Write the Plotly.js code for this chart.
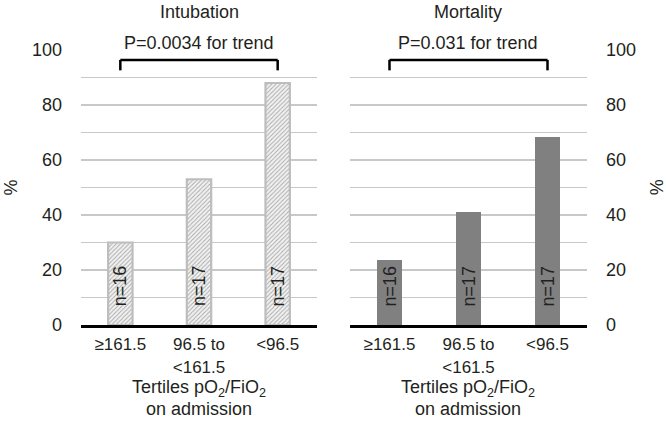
<!DOCTYPE html>
<html>
<head>
<meta charset="utf-8">
<script src="https://cdn.plot.ly/plotly-3.0.1.min.js"></script>
<style>html,body{margin:0;padding:0;background:#fff}#chart{width:666px;height:432px}</style>
</head>
<body>
<div id="chart"></div>
<script>
// ---- data ----
const categories = ["≥161.5", "96.5 to<br>&lt;161.5", "&lt;96.5"];
const intubation = [30, 53, 88];
const mortality = [23.5, 41, 68.5];
const nLabels = ["n=16", "n=17", "n=17"];
const panelTitles = ["Intubation", "Mortality"];
const pTexts = ["P=0.0034 for trend", "P=0.031 for trend"];
const yTicks = [0, 20, 40, 60, 80, 100];

const FONT = "Liberation Sans, Arial, Helvetica, sans-serif";
const TXT = "#231f20";
const GRID = "#c8c8c8";
const FS = 18;
const TFS = 17;
const idx = categories.map((c, i) => i);

const traces = [
  {
    type: "bar", x: idx, y: intubation, xaxis: "x", yaxis: "y", width: 0.31,
    marker: {
      color: "#ededed",
      line: {color: "#bdbdbd", width: 2.2},
      pattern: {shape: "/", fgcolor: "#a8a8a8", bgcolor: "#f2f2f2", size: 3, solidity: 0.3}
    },
    hoverinfo: "skip"
  },
  {
    type: "bar", x: idx, y: mortality, xaxis: "x2", yaxis: "y2", width: 0.32,
    marker: {color: "#808080", line: {width: 0}},
    hoverinfo: "skip"
  }
];

function xAx(domain, anchor) {
  return {
    domain: domain, anchor: anchor, range: [-0.5, 2.5],
    tickmode: "array", tickvals: idx, ticktext: categories,
    showline: true, linecolor: "#000", linewidth: 3,
    showgrid: false, zeroline: false, ticks: "", ticklabelstandoff: 2,
    tickfont: {family: FONT, size: TFS, color: TXT}, fixedrange: true
  };
}
function yAx(anchor, side) {
  return {
    anchor: anchor, side: side, range: [0, 100],
    tickmode: "array", tickvals: yTicks,
    showgrid: true, gridcolor: GRID, gridwidth: 1.5,
    minor: {dtick: 10, tick0: 0, showgrid: true, gridcolor: GRID, gridwidth: 1.5, ticks: ""},
    zeroline: false, showline: false, ticks: "", ticklabelstandoff: 18,
    tickfont: {family: FONT, size: FS, color: TXT}, fixedrange: true
  };
}

// paper y from a value on the 0-100 scale (plot area spans the full margins box)
const py = v => v / 100;

const annotations = [];
const shapes = [];
const axes = [["x", "y"], ["x2", "y2"]];
axes.forEach(([xa, ya], p) => {
  annotations.push({xref: xa, yref: "paper", x: 1, y: py(113.8), text: panelTitles[p], showarrow: false,
    font: {family: FONT, size: FS, color: TXT}, xanchor: "center", yanchor: "middle"});
  annotations.push({xref: xa, yref: "paper", x: 1, y: py(102.6), text: pTexts[p], showarrow: false,
    bgcolor: "#ffffff", borderpad: 1,
    font: {family: FONT, size: FS, color: TXT}, xanchor: "center", yanchor: "middle"});
  nLabels.forEach((t, i) => {
    annotations.push({xref: xa, yref: ya, x: i, y: 14.2, text: t, showarrow: false, textangle: -90,
      font: {family: FONT, size: FS, color: TXT}, xanchor: "center", yanchor: "middle"});
  });
  annotations.push({xref: xa, yref: "paper", x: 1, y: py(-23.2), text: "Tertiles pO<sub>2</sub>/FiO<sub>2</sub>", showarrow: false,
    font: {family: FONT, size: FS, color: TXT}, xanchor: "center", yanchor: "middle"});
  annotations.push({xref: xa, yref: "paper", x: 1, y: py(-30.4), text: "on admission", showarrow: false,
    font: {family: FONT, size: FS, color: TXT}, xanchor: "center", yanchor: "middle"});
  const last = categories.length - 1;
  const lineStyle = {color: "#000", width: 2.5};
  shapes.push({type: "line", xref: xa, yref: ya, x0: 0, x1: last, y0: 96.4, y1: 96.4, line: lineStyle});
  shapes.push({type: "line", xref: xa, yref: ya, x0: 0, x1: 0, y0: 96.4, y1: 92.6, line: lineStyle});
  shapes.push({type: "line", xref: xa, yref: ya, x0: last, x1: last, y0: 96.4, y1: 92.6, line: lineStyle});
});
annotations.push({xref: "paper", yref: "paper", x: -0.1403, y: py(50), text: "%", showarrow: false, textangle: -90,
  font: {family: FONT, size: FS, color: TXT}, xanchor: "center", yanchor: "middle"});
annotations.push({xref: "paper", yref: "paper", x: 1.138, y: py(50), text: "%", showarrow: false, textangle: -90,
  font: {family: FONT, size: FS, color: TXT}, xanchor: "center", yanchor: "middle"});

const layout = {
  width: 666, height: 432,
  margin: {l: 81, r: 79, t: 50, b: 107, autoexpand: false},
  paper_bgcolor: "#ffffff", plot_bgcolor: "#ffffff",
  showlegend: false, bargap: 0,
  xaxis: xAx([0, 0.4664], "y"),
  xaxis2: xAx([0.5316, 1], "y2"),
  yaxis: yAx("x", "left"),
  yaxis2: yAx("x2", "right"),
  annotations: annotations,
  shapes: shapes,
  font: {family: FONT, size: FS, color: TXT}
};

Plotly.newPlot("chart", traces, layout, {displayModeBar: false, staticPlot: true});
</script>
</body>
</html>
